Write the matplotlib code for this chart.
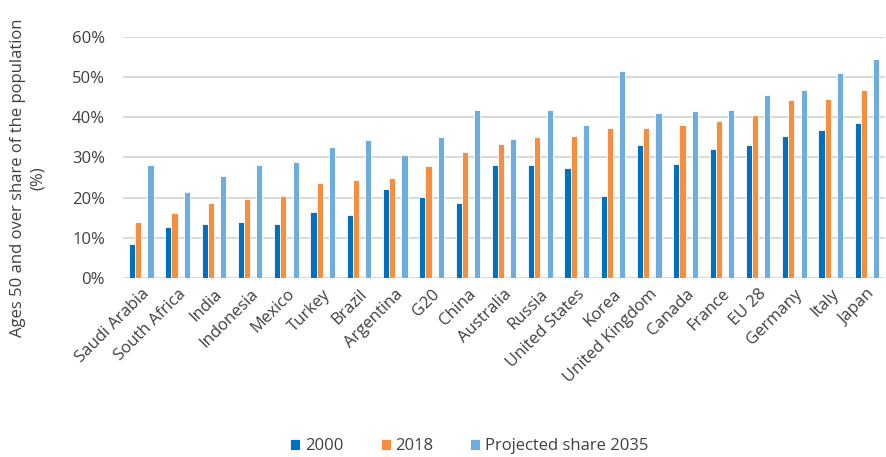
import numpy as np
import matplotlib.pyplot as plt
from matplotlib.ticker import PercentFormatter

# Данные (доли, %)
countries = ['Saudi Arabia', 'South Africa', 'India', 'Indonesia', 'Mexico', 'Turkey',
             'Brazil', 'Argentina', 'G20', 'China', 'Australia', 'Russia',
             'United States', 'Korea', 'United Kingdom', 'Canada', 'France',
             'EU 28', 'Germany', 'Italy', 'Japan']
share_2000 = [8.5, 12.7, 13.5, 13.9, 13.5, 16.4, 15.7, 22.1, 20.1, 18.6, 28.1,
              28.1, 27.4, 20.4, 33.2, 28.3, 32.0, 33.0, 35.4, 36.9, 38.6]
share_2018 = [13.9, 16.2, 18.7, 19.7, 20.3, 23.6, 24.4, 25.0, 27.9, 31.3, 33.3,
              35.2, 35.4, 37.3, 37.3, 38.2, 39.1, 40.5, 44.3, 44.5, 46.8]
share_2035 = [28.1, 21.4, 25.4, 28.0, 28.9, 32.7, 34.4, 30.6, 35.1, 41.8, 34.7,
              41.7, 38.1, 51.5, 41.0, 41.5, 41.7, 45.5, 46.9, 51.0, 54.4]

plt.rcParams['font.family'] = ['Open Sans', 'DejaVu Sans']
text_color = '#404040'

fig = plt.figure(figsize=(8.86, 4.57), dpi=100)
ax = fig.add_axes([0.139, 0.392, 0.86, 0.527])

x = np.arange(len(countries))
w = 0.17
# четыре позиции в слоте, третья пустая
ax.bar(x - 1.5 * w, share_2000, w, color='#0070C0', edgecolor='white', linewidth=0.6,
       label='2000', zorder=3)
ax.bar(x - 0.5 * w, share_2018, w, color='#F58F3F', edgecolor='white', linewidth=0.6,
       label='2018', zorder=3)
ax.bar(x + 1.5 * w, share_2035, w, color='#6EADDE', edgecolor='white', linewidth=0.6,
       label='Projected share 2035', zorder=3)

ax.set_xlim(-0.5, len(countries) - 0.5)
ax.set_ylim(0, 60)
ax.set_yticks(np.arange(0, 61, 10))
ax.yaxis.set_major_formatter(PercentFormatter(decimals=0))
ax.grid(axis='y', color='#D9D9D9', linewidth=1.5, zorder=0)
for s in ax.spines.values():
    s.set_visible(False)
ax.tick_params(axis='both', length=0, colors=text_color, labelsize=12)
ax.tick_params(axis='y', pad=13)

ax.set_xticks(x)
ax.set_xticklabels(countries, rotation=45, ha='right', rotation_mode='anchor',
                   fontsize=12, color=text_color)
ax.tick_params(axis='x', pad=6)

# подпись оси Y
fig.text(28 / 886, 1 - 178 / 457, 'Ages 50 and over share of the population\n(%)',
         rotation=90, ha='center', va='center', multialignment='center',
         fontsize=12, color=text_color, linespacing=1.25)

leg = fig.legend(loc='lower center', bbox_to_anchor=(0.53, -0.027), ncol=3, frameon=False,
                 fontsize=12, handlelength=0.6, handleheight=0.6, handletextpad=0.3,
                 columnspacing=2.2)
for t in leg.get_texts():
    t.set_color(text_color)

fig.savefig('out.png', dpi=100)
